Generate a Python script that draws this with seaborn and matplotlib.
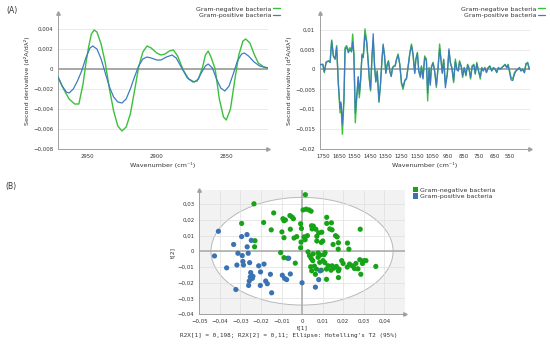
import numpy as np
import pandas as pd
import matplotlib
matplotlib.use("Agg")
import matplotlib.pyplot as plt
import seaborn as sns
from matplotlib.patches import Ellipse, Patch
from matplotlib.ticker import FuncFormatter, FixedLocator

# ---------------- data ----------------
# Panel A left: 3000-2800 region
wn_a_neg = [2971, 2967, 2963, 2959, 2956, 2953, 2951, 2949, 2947, 2945, 2943, 2940, 2937,
            2934, 2931, 2928, 2925, 2922, 2919, 2916, 2913, 2910, 2907, 2904, 2900, 2897,
            2894, 2891, 2888, 2885, 2881, 2877, 2873, 2870, 2867, 2865, 2863, 2861, 2858,
            2855, 2852, 2850, 2847, 2844, 2841, 2838, 2836, 2833, 2830, 2827, 2823, 2820]
val_a_neg = [-0.0008, -0.0020, -0.0030, -0.0035, -0.0035, -0.0015, 0.0005, 0.0022, 0.0035,
             0.0039, 0.0037, 0.0025, 0.0006, -0.0020, -0.0042, -0.0057, -0.0062, -0.0058,
             -0.0045, -0.0022, 0.0002, 0.0017, 0.0023, 0.0021, 0.0016, 0.0014, 0.0015, 0.0018,
             0.0019, 0.0013, -0.0001, -0.0010, -0.0013, -0.0010, 0.0002, 0.0014, 0.0018,
             0.0012, 0.0000, -0.0030, -0.0048, -0.0051, -0.0040, -0.0012, 0.0014, 0.0028,
             0.0030, 0.0026, 0.0015, 0.0006, 0.0002, 0.0001]
wn_a_pos = [2971, 2968, 2965, 2963, 2960, 2957, 2954, 2951, 2948, 2946, 2943, 2940, 2937,
            2934, 2931, 2928, 2925, 2922, 2919, 2916, 2913, 2910, 2907, 2904, 2900, 2897,
            2893, 2889, 2886, 2882, 2878, 2874, 2871, 2868, 2865, 2863, 2860, 2857, 2854,
            2851, 2848, 2845, 2842, 2839, 2837, 2834, 2830, 2826, 2820]
val_a_pos = [-0.0008, -0.0017, -0.0023, -0.0024, -0.0020, -0.0012, -0.0002, 0.0011, 0.0021,
             0.0023, 0.0020, 0.0010, -0.0004, -0.0018, -0.0028, -0.0033, -0.0034, -0.0030,
             -0.0020, -0.0008, 0.0003, 0.0010, 0.0012, 0.0011, 0.0009, 0.0009, 0.0012, 0.0014,
             0.0011, 0.0001, -0.0009, -0.0013, -0.0012, -0.0004, 0.0003, 0.0005, 0.0001,
             -0.0010, -0.0019, -0.0022, -0.0017, -0.0005, 0.0008, 0.0015, 0.0016, 0.0013,
             0.0007, 0.0003, 0.0001]

# Panel A right: 1800-400 region
wn_b = [1771, 1754, 1744, 1733, 1718, 1707, 1697, 1686, 1675, 1665, 1654, 1643, 1637, 1628,
        1618, 1611, 1601, 1590, 1579, 1569, 1562, 1554, 1545, 1537, 1526, 1519, 1511, 1502,
        1494, 1483, 1472, 1462, 1455, 1447, 1438, 1430, 1421, 1413, 1404, 1393, 1383, 1374,
        1366, 1357, 1349, 1340, 1332, 1323, 1314, 1306, 1297, 1289, 1280, 1270, 1259, 1248,
        1238, 1227, 1216, 1206, 1195, 1184, 1174, 1163, 1156, 1146, 1137, 1127, 1120, 1110,
        1099, 1088, 1080, 1071, 1063, 1056, 1045, 1035, 1024, 1013, 1003, 994, 986, 977,
        966, 954, 943, 934, 924, 913, 902, 892, 883, 875, 864, 855, 845, 834, 823, 815, 804,
        794, 783, 774, 764, 753, 742, 732, 723, 712, 702, 691, 680, 668, 657, 646, 636, 625,
        614, 603, 593, 582, 571, 563, 554, 544, 533, 522, 512, 501, 490, 480, 469, 458, 448,
        437, 426]
val_b_neg = [0.0012, 0.0013, -0.0008, 0.0018, 0.0022, 0.0018, 0.0074, 0.0034, 0.0026, 0.0060,
             -0.0037, -0.0109, -0.0088, -0.0163, -0.0079, 0.0055, 0.0060, 0.0047, 0.0055,
             0.0047, 0.0089, 0.0039, -0.0134, -0.0079, -0.0020, -0.0071, -0.0029, 0.0039,
             0.0030, 0.0102, 0.0072, 0.0018, -0.0024, -0.0054, 0.0030, 0.0072, 0.0005,
             -0.0029, -0.0003, -0.0083, -0.0037, 0.0022, 0.0060, 0.0034, -0.0008, 0.0013,
             0.0022, -0.0003, -0.0016, 0.0005, 0.0009, 0.0009, 0.0026, 0.0039, 0.0013,
             -0.0037, -0.0050, -0.0029, -0.0024, 0.0005, 0.0039, 0.0064, 0.0039, -0.0008,
             0.0026, 0.0043, -0.0003, -0.0016, 0.0009, -0.0020, 0.0034, 0.0026, -0.0079,
             0.0005, -0.0037, 0.0007, 0.0018, -0.0003, -0.0045, 0.0005, 0.0064, 0.0026,
             -0.0008, 0.0026, -0.0033, -0.0012, 0.0047, 0.0018, 0.0005, -0.0033, 0.0026,
             0.0001, -0.0003, 0.0022, 0.0009, -0.0020, 0.0005, -0.0016, 0.0013, 0.0005,
             -0.0024, 0.0009, 0.0013, -0.0012, 0.0018, -0.0003, -0.0024, 0.0005, -0.0003,
             0.0005, -0.0008, 0.0005, 0.0009, -0.0003, 0.0005, 0.0001, -0.0008, 0.0005,
             0.0001, 0.0005, 0.0009, 0.0013, 0.0005, 0.0013, -0.0003, -0.0020, -0.0024,
             -0.0008, -0.0003, 0.0001, 0.0005, -0.0003, 0.0001, -0.0008, 0.0013, 0.0018,
             0.0001]
val_b_pos = [0.0012, 0.0013, -0.0006, 0.0018, 0.0021, 0.0018, 0.0072, 0.0034, 0.0026, 0.0056,
             -0.0035, -0.0098, -0.0082, -0.0138, -0.0072, 0.0050, 0.0056, 0.0042, 0.0050,
             0.0044, 0.0070, 0.0036, -0.0110, -0.0070, -0.0018, -0.0062, -0.0025, 0.0036,
             0.0030, 0.0088, 0.0068, 0.0018, -0.0022, -0.0050, 0.0032, 0.0090, 0.0008,
             -0.0032, -0.0005, -0.0080, -0.0035, 0.0024, 0.0064, 0.0034, -0.0010, 0.0011,
             0.0020, -0.0006, -0.0018, 0.0003, 0.0008, 0.0009, 0.0025, 0.0036, 0.0012,
             -0.0033, -0.0044, -0.0027, -0.0022, 0.0006, 0.0040, 0.0060, 0.0037, -0.0010,
             0.0024, 0.0040, -0.0005, -0.0020, 0.0007, -0.0024, 0.0030, 0.0022, -0.0060,
             0.0002, -0.0040, 0.0004, 0.0016, -0.0005, -0.0040, 0.0004, 0.0052, 0.0022,
             -0.0010, 0.0024, -0.0046, -0.0014, 0.0052, 0.0016, 0.0002, -0.0028, 0.0020,
             -0.0001, -0.0004, 0.0018, 0.0007, -0.0016, 0.0004, -0.0014, 0.0011, 0.0004,
             -0.0020, 0.0007, 0.0011, -0.0010, 0.0014, -0.0004, -0.0018, 0.0004, -0.0004,
             0.0004, -0.0007, 0.0004, 0.0008, -0.0004, 0.0004, 0.0001, -0.0007, 0.0004,
             0.0001, 0.0004, 0.0008, 0.0012, 0.0004, 0.0011, -0.0005, -0.0026, -0.0028,
             -0.0012, -0.0004, 0.0000, 0.0004, -0.0004, 0.0000, -0.0008, 0.0015, 0.0016,
             0.0000]

# Panel B: PCA scores
neg_t1 = [-0.0234, -0.0294, -0.0229, -0.0231, -0.0187, -0.0150, -0.0138, -0.0093, -0.0088,
          -0.0081, -0.0098, -0.0088, -0.0059, -0.0049, -0.0042, -0.0057, -0.0039, -0.0026,
          -0.0007, -0.0003, 0.0016, 0.0005, 0.0020, 0.0034, 0.0044, -0.0104, -0.0088,
          -0.0070, -0.0033, -0.0007, -0.0005, 0.0010, 0.0015, 0.0026, 0.0029, 0.0036, 0.0044,
          0.0052, 0.0072, 0.0049, 0.0046, 0.0055, 0.0067, 0.0081, 0.0072, 0.0096, 0.0101,
          0.0094, 0.0120, 0.0120, 0.0143, 0.0135, 0.0146, 0.0163, 0.0171, 0.0177, 0.0176,
          0.0151, 0.0112, 0.0107, 0.0102, 0.0111, 0.0127, 0.0146, 0.0154, 0.0167, 0.0180,
          0.0177, 0.0177, 0.0193, 0.0200, 0.0221, 0.0228, 0.0231, 0.0244, 0.0220, 0.0255,
          0.0262, 0.0272, 0.0281, 0.0294, 0.0301, 0.0311, 0.0283, 0.0286, 0.0359, 0.0070,
          0.0065, 0.0060, 0.0086, 0.0078, 0.0042, 0.0047, 0.0141, 0.0119, 0.0119, 0.0054,
          0.0094, 0.0088, 0.0078]
neg_t2 = [0.0302, 0.0177, 0.0067, 0.0028, 0.0183, 0.0136, 0.0244, 0.0207, 0.0194, 0.0199,
          0.0123, 0.0086, 0.0227, 0.0218, 0.0207, 0.0140, 0.0084, 0.0093, 0.0175, 0.0145,
          0.0360, 0.0263, 0.0268, 0.0263, 0.0255, -0.0009, -0.0041, -0.0045, -0.0076, 0.0022,
          0.0058, 0.0091, 0.0073, 0.0099, -0.0004, -0.0028, -0.0045, -0.0060, 0.0065, 0.0142,
          0.0162, 0.0160, 0.0140, 0.0117, 0.0095, 0.0121, 0.0065, 0.0056, 0.0216, 0.0177,
          0.0181, 0.0142, 0.0136, 0.0099, 0.0091, 0.0054, 0.0013, 0.0043, -0.0009, -0.0022,
          -0.0060, -0.0073, -0.0093, -0.0093, -0.0108, -0.0097, -0.0114, -0.0168, -0.0125,
          -0.0060, -0.0078, 0.0052, 0.0013, -0.0082, -0.0093, -0.0101, -0.0110, -0.0078,
          -0.0112, -0.0054, -0.0078, -0.0060, -0.0060, 0.0140, -0.0147, -0.0097, -0.0114,
          -0.0147, -0.0095, -0.0071, -0.0039, -0.0099, -0.0125, -0.0121, -0.0179, -0.0114,
          -0.0017, -0.0121, -0.0024, -0.0011]
pos_t1 = [-0.0407, -0.0426, -0.0367, -0.0333, -0.0322, -0.0312, -0.0317, -0.0294, -0.0268,
          -0.0247, -0.0291, -0.0288, -0.0285, -0.0267, -0.0262, -0.0255, -0.0250, -0.0252,
          -0.0257, -0.0260, -0.0242, -0.0239, -0.0211, -0.0185, -0.0202, -0.0203, -0.0177,
          -0.0169, -0.0154, -0.0148, -0.0096, -0.0085, -0.0075, -0.0057, -0.0065, 0.0000,
          0.0065, 0.0088, 0.0081]
pos_t2 = [0.0127, -0.0030, -0.0106, 0.0043, -0.0244, -0.0013, -0.0088, 0.0093, 0.0106,
          0.0069, -0.0028, -0.0065, -0.0088, 0.0028, -0.0013, -0.0073, -0.0136, -0.0164,
          -0.0190, -0.0218, -0.0173, -0.0160, -0.0093, -0.0082, -0.0132, -0.0218, -0.0190,
          -0.0207, -0.0147, -0.0265, -0.0153, -0.0173, -0.0181, -0.0145, -0.0045, -0.0201,
          -0.0229, -0.0125, -0.0181]

label_neg = "Gram-negative bacteria"
label_pos = "Gram-positive bacteria"
ticks_a1_x = [2950, 2900, 2850]
ticks_a1_y = [-0.008, -0.006, -0.004, -0.002, 0, 0.002, 0.004]
ticks_a2_x = [1750, 1650, 1550, 1450, 1350, 1250, 1150, 1050, 950, 850, 750, 650, 550]
ticks_a2_y = [-0.02, -0.015, -0.01, -0.005, 0, 0.005, 0.01]
ticks_b_x = [-0.05, -0.04, -0.03, -0.02, -0.01, 0, 0.01, 0.02, 0.03, 0.04]
ticks_b_y = [-0.04, -0.03, -0.02, -0.01, 0, 0.01, 0.02, 0.03]

# ---------------- style ----------------
sns.set_style("white")
plt.rcParams['font.family'] = ['DejaVu Sans']
plt.rcParams['axes.unicode_minus'] = False

GREEN_L = "#3cbf3c"
BLUE_L = "#3f7cbf"
GREEN_M = "#17a317"
BLUE_M = "#3a72b2"
AXC = "#a0a0a0"
TXT = "#333333"
TICK_FS = 3.9
LAB_FS = 4.6


def comma_fmt(v, pos=None):
    if abs(v) < 1e-12:
        return "0"
    s = f"{abs(v):g}".replace(".", ",")
    return ("\u2212" + s) if v < 0 else s


def style_axes(ax, xticks, yticks):
    for s in ["top", "right"]:
        ax.spines[s].set_visible(False)
    for s in ["left", "bottom"]:
        ax.spines[s].set_color(AXC)
        ax.spines[s].set_linewidth(0.7)
    ax.xaxis.set_major_locator(FixedLocator(xticks))
    ax.yaxis.set_major_locator(FixedLocator(yticks))
    ax.xaxis.set_major_formatter(FuncFormatter(comma_fmt))
    ax.yaxis.set_major_formatter(FuncFormatter(comma_fmt))
    ax.tick_params(axis="both", labelsize=TICK_FS, length=2, width=0.5, color=AXC,
                   pad=1.5, labelcolor=TXT)
    ax.plot(1, 0, marker=">", ms=2.5, color=AXC, transform=ax.transAxes, clip_on=False)
    ax.plot(0, 1, marker="^", ms=2.5, color=AXC, transform=ax.transAxes, clip_on=False)


fig = plt.figure(figsize=(5.5, 3.46), dpi=100)
W, H = 550.0, 346.0

# ---- Panel A left ----
ax1 = fig.add_axes([58 / W, 1 - 149 / H, 210 / W, 136 / H])
for y in ticks_a1_y:
    ax1.axhline(y, color="#e6e6e6", lw=0.6, zorder=0)
ax1.axhline(0, color="#a8a8a8", lw=1.4, zorder=1)
sns.lineplot(x=wn_a_neg, y=val_a_neg, ax=ax1, color=GREEN_L, lw=1.0, sort=False,
             estimator=None, label=label_neg, zorder=3)
sns.lineplot(x=wn_a_pos, y=val_a_pos, ax=ax1, color=BLUE_L, lw=0.9, sort=False,
             estimator=None, label=label_pos, zorder=4)
ax1.set_xlim(2971, 2820)
ax1.set_ylim(-0.008, 0.0056)
style_axes(ax1, ticks_a1_x, ticks_a1_y)
ax1.set_xlabel("Wavenumber (cm⁻¹)", fontsize=LAB_FS, color=TXT, labelpad=2)
ax1.set_ylabel("Second derivative (d²A/dλ²)", fontsize=LAB_FS, color=TXT, labelpad=2)
ax1.legend(loc="upper right", bbox_to_anchor=(283 / W, 1 - 3 / H),
           bbox_transform=fig.transFigure, markerfirst=False, frameon=False,
           fontsize=4.5, handlelength=1.1, handletextpad=0.3, labelspacing=0.2,
           borderpad=0, labelcolor=TXT)

# ---- Panel A right ----
ax2 = fig.add_axes([320 / W, 1 - 149 / H, 210 / W, 136 / H])
for y in ticks_a2_y:
    ax2.axhline(y, color="#e6e6e6", lw=0.6, zorder=0)
ax2.axhline(0, color="#a8a8a8", lw=1.4, zorder=1)
sns.lineplot(x=wn_b, y=val_b_neg, ax=ax2, color=GREEN_L, lw=1.0, sort=False,
             estimator=None, label=label_neg, zorder=3)
sns.lineplot(x=wn_b, y=val_b_pos, ax=ax2, color=BLUE_L, lw=0.9, sort=False,
             estimator=None, label=label_pos, zorder=4)
ax2.set_xlim(1772, 422)
ax2.set_ylim(-0.02, 0.0142)
style_axes(ax2, ticks_a2_x, ticks_a2_y)
ax2.set_xlabel("Wavenumber (cm⁻¹)", fontsize=LAB_FS, color=TXT, labelpad=2)
ax2.set_ylabel("Second derivative (d²A/dλ²)", fontsize=LAB_FS, color=TXT, labelpad=2)
ax2.legend(loc="upper right", bbox_to_anchor=(548 / W, 1 - 3 / H),
           bbox_transform=fig.transFigure, markerfirst=False, frameon=False,
           fontsize=4.5, handlelength=1.1, handletextpad=0.3, labelspacing=0.2,
           borderpad=0, labelcolor=TXT)

# ---- Panel B ----
ax3 = fig.add_axes([199.3 / W, 1 - 314 / H, 205.5 / W, 124 / H])
ax3.set_facecolor("#f2f2f2")
ell = Ellipse((0, 0), width=0.0886, height=0.0686, facecolor="white",
              edgecolor="#b8b8b8", lw=0.7, zorder=0.5)
ax3.add_patch(ell)
for x in ticks_b_x:
    ax3.axvline(x, color="#dedede", lw=0.5, zorder=1)
for y in ticks_b_y:
    ax3.axhline(y, color="#dedede", lw=0.5, zorder=1)
ax3.axhline(0, color="#a8a8a8", lw=1.1, zorder=1.5)
ax3.axvline(0, color="#a8a8a8", lw=1.1, zorder=1.5)

df = pd.DataFrame({
    "t1": neg_t1 + pos_t1,
    "t2": neg_t2 + pos_t2,
    "group": [label_neg] * len(neg_t1) + [label_pos] * len(pos_t1),
})
sns.scatterplot(data=df, x="t1", y="t2", hue="group", ax=ax3,
                palette={label_neg: GREEN_M, label_pos: BLUE_M}, s=14,
                linewidth=0, legend=False, zorder=3)
ax3.set_xlim(-0.05, 0.05)
ax3.set_ylim(-0.04, 0.039)
style_axes(ax3, ticks_b_x, ticks_b_y)
ax3.set_xlabel("t[1]", fontsize=4.3, color=TXT, labelpad=1)
ax3.set_ylabel("t[2]", fontsize=4.3, color=TXT, labelpad=2)

handles = [Patch(facecolor=GREEN_M, edgecolor="none", label=label_neg),
           Patch(facecolor=BLUE_M, edgecolor="none", label=label_pos)]
fig.legend(handles=handles, loc="upper left", bbox_to_anchor=(410 / W, 1 - 184 / H),
           frameon=False, fontsize=4.5, handlelength=0.8, handleheight=0.9,
           handletextpad=0.3, labelspacing=0.1, borderpad=0, labelcolor=TXT)

fig.text(289 / W, 1 - 335.5 / H,
         "R2X[1] = 0,198; R2X[2] = 0,11; Ellipse: Hotelling's T2 (95%)",
         ha="center", va="center", fontsize=4.3, family="DejaVu Sans Mono", color=TXT)

fig.text(6 / W, 1 - 10 / H, "(A)", fontsize=5.5, va="center", ha="left", color=TXT)
fig.text(5 / W, 1 - 186 / H, "(B)", fontsize=5.5, va="center", ha="left", color=TXT)

fig.savefig("out.png", dpi=100)
